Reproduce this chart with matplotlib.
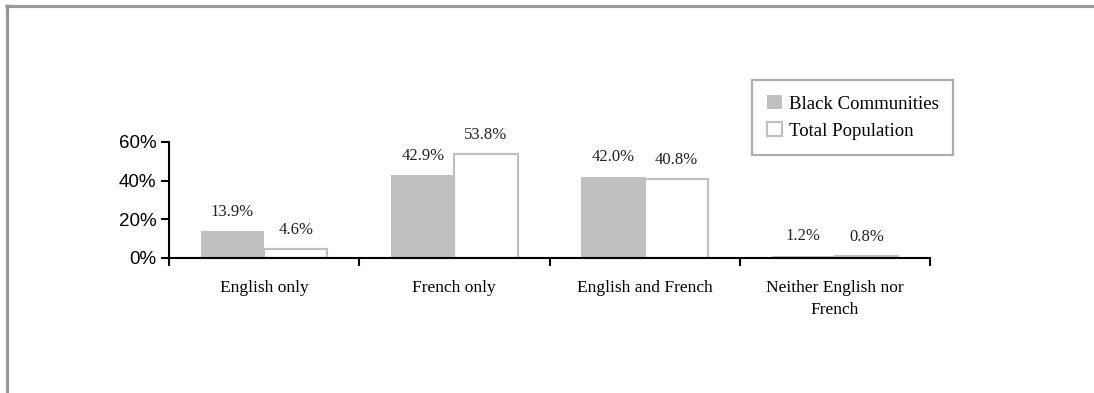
import matplotlib.pyplot as plt
from matplotlib.lines import Line2D
from matplotlib.ticker import FuncFormatter
import numpy as np

########## Data ##########

categories = ["English only", "French only", "English and French", "Neither English nor\nFrench"]
black_communities = [13.9, 42.9, 42.0, 1.2]
total_population = [4.6, 53.8, 40.8, 0.8]
series_names = ["Black Communities", "Total Population"]
y_ticks = [0, 20, 40, 60]

##########################

W, H = 1094, 393
fig = plt.figure(figsize=(W / 100, H / 100), dpi=100)

# grey frame (top and left edges only visible)
frame_color = "#999999"
fig.add_artist(Line2D([5 / W, 1.0], [1 - 5.5 / H, 1 - 5.5 / H], transform=fig.transFigure,
                      color=frame_color, lw=2.3, solid_capstyle="butt"))
fig.add_artist(Line2D([6.5 / W, 6.5 / W], [0, 1 - 4 / H], transform=fig.transFigure,
                      color=frame_color, lw=2.3, solid_capstyle="butt"))

ax = fig.add_axes([169 / W, (H - 258) / H, (930 - 169) / W, 116 / H])

x = np.arange(len(categories)) + 0.5
bw = 0.333
grey = "#C0C0C0"

b1 = ax.bar(x - bw, black_communities, width=bw, align="edge", color=grey, edgecolor=grey,
            linewidth=0, label=series_names[0])
b2 = ax.bar(x, total_population, width=bw, align="edge", color="white", edgecolor=grey,
            linewidth=1.6, label=series_names[1])

serif = "Liberation Serif"
for bars, vals in ((b1, black_communities), (b2, total_population)):
    for rect, v in zip(bars, vals):
        ax.annotate(f"{v:.1f}%", (rect.get_x() + rect.get_width() / 2, v),
                    xytext=(0, 14), textcoords="offset points", ha="center", va="center",
                    fontsize=12, family=serif, color="#222222")

ax.set_xlim(0, len(categories))
ax.set_ylim(0, 60)
ax.set_yticks(y_ticks)
ax.yaxis.set_major_formatter(FuncFormatter(lambda v, _: f"{v:.0f}%"))
ax.tick_params(axis="y", direction="out", length=6, width=1.5, labelsize=13.5, pad=3)
for lab in ax.get_yticklabels():
    lab.set_family("Liberation Sans")

ax.set_xticks(np.arange(len(categories) + 1))
ax.set_xticklabels([])
ax.tick_params(axis="x", which="major", direction="out", length=6, width=1.5)
ax.set_xticks(x, minor=True)
ax.set_xticklabels(categories, minor=True, fontsize=12.5, family=serif, linespacing=1.5)
ax.tick_params(axis="x", which="minor", length=0, pad=16)

for s in ("top", "right"):
    ax.spines[s].set_visible(False)
for s in ("left", "bottom"):
    ax.spines[s].set_linewidth(1.5)

leg = fig.legend(loc="upper left", bbox_to_anchor=(752 / W, 1 - 80 / H), borderaxespad=0,
                 frameon=True, fancybox=False, handlelength=0.8, handleheight=0.8,
                 handletextpad=0.35, labelspacing=0.5, borderpad=0.8,
                 prop={"family": serif, "size": 13.5})
leg.get_frame().set_edgecolor(frame_color)
leg.get_frame().set_linewidth(1.6)

fig.savefig("out.png", dpi=100)
